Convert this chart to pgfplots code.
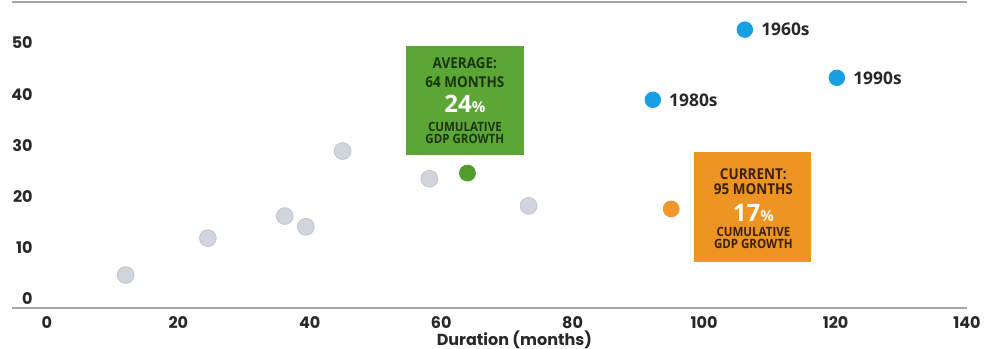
\documentclass[border=0pt]{standalone}
\usepackage{fontspec}
\setmainfont{Poppins}
\newfontfamily\lato{Open Sans}
\newfontfamily\boxfont{Open Sans}[FakeStretch=0.9]
\usepackage{pgfplots}
\pgfplotsset{compat=1.18}
\definecolor{ptgray}{RGB}{208,212,220}
\definecolor{ptgrayedge}{RGB}{192,197,206}
\definecolor{ptblue}{RGB}{22,160,225}
\definecolor{ptgreen}{RGB}{80,156,44}
\definecolor{ptorange}{RGB}{241,152,45}
\definecolor{boxgreen}{RGB}{92,166,54}
\definecolor{boxorange}{RGB}{237,148,35}
\definecolor{txtgreen}{RGB}{28,52,16}
\definecolor{txtorange}{RGB}{58,34,8}
\definecolor{axgray}{RGB}{165,165,165}
\definecolor{tickcol}{RGB}{40,40,40}
\begin{document}
\begin{tikzpicture}
\begin{axis}[
  scale only axis,
  width=477.5pt, height=153pt,
  xmin=-5.3, xmax=140, ymin=-2.34, ymax=57.4,
  xtick={0,20,...,140}, ytick={0,10,...,50},
  major tick length=0pt,
  tick style={draw=none},
  separate axis lines,
  x axis line style={draw=axgray, line width=0.7pt},
  y axis line style={draw=none},
  clip=false,
  /pgf/number format/assume math mode=true,
  ticklabel style={font=\bfseries\fontsize{8}{9.6}\selectfont, text=tickcol},
  xticklabel style={inner sep=0pt, anchor=north, yshift=-4.25pt},
  yticklabel style={inner sep=0pt, anchor=east, xshift=10.5pt, yshift=-1.5pt},
  xlabel={Duration (months)},
  xlabel style={at={(rel axis cs:0.526,0)}, anchor=center, yshift=-16pt, inner sep=0pt,
    font=\bfseries\fontsize{8}{9.6}\selectfont, text=tickcol},
]
% annotation boxes
\fill[boxgreen] (axis cs:54.6,27.5) rectangle (axis cs:72.6,48.8);
\fill[boxorange] (axis cs:98.5,6.6) rectangle (axis cs:116.3,28.1);

% gray expansions
\addplot[only marks, mark=*, mark size=4.2pt, mark options={fill=ptgray, draw=ptgrayedge, line width=0.4pt}]
  coordinates {(12,4.1) (24.5,11.3) (36.2,15.6) (39.4,13.5) (45,28.3) (58.2,22.9) (73.3,17.6)};
% average
\addplot[only marks, mark=*, mark size=4pt, mark options={fill=ptgreen, draw=ptgreen}]
  coordinates {(64,24)};
% current
\addplot[only marks, mark=*, mark size=4pt, mark options={fill=ptorange, draw=ptorange}]
  coordinates {(95,17)};
% decades
\addplot[only marks, mark=*, mark size=3.9pt, mark options={fill=ptblue, draw=ptblue}]
  coordinates {(92.2,38.3) (106.2,52) (120.2,42.6)};

\node[anchor=west, inner sep=0pt, xshift=8pt, font=\lato\bfseries\fontsize{8.7}{10}\selectfont, text=tickcol] at (axis cs:92.2,38.3) {1980s};
\node[anchor=west, inner sep=0pt, xshift=8pt, font=\lato\bfseries\fontsize{8.7}{10}\selectfont, text=tickcol] at (axis cs:106.2,52) {1960s};
\node[anchor=west, inner sep=0pt, xshift=8pt, font=\lato\bfseries\fontsize{8.7}{10}\selectfont, text=tickcol] at (axis cs:120.2,42.6) {1990s};

% green box text
\node[inner sep=0pt, font=\boxfont\bfseries\fontsize{7.5}{8}\selectfont, text=txtgreen] at (axis cs:63.6,45.5) {AVERAGE:};
\node[inner sep=0pt, font=\boxfont\bfseries\fontsize{7.5}{8}\selectfont, text=txtgreen] at (axis cs:63.6,41.8) {64 MONTHS};
\node[inner sep=0pt, font=\lato\bfseries, text=white] at (axis cs:63.6,37.5) {{\fontsize{12}{13}\selectfont 24}{\fontsize{7.5}{8}\selectfont\%}};
\node[inner sep=0pt, font=\boxfont\bfseries\fontsize{6.4}{7}\selectfont, text=txtgreen] at (axis cs:63.6,33.0) {CUMULATIVE};
\node[inner sep=0pt, font=\boxfont\bfseries\fontsize{6.4}{7}\selectfont, text=txtgreen] at (axis cs:63.6,30.7) {GDP GROWTH};

% orange box text
\node[inner sep=0pt, font=\boxfont\bfseries\fontsize{7.5}{8}\selectfont, text=txtorange] at (axis cs:107.5,23.8) {CURRENT:};
\node[inner sep=0pt, font=\boxfont\bfseries\fontsize{7.5}{8}\selectfont, text=txtorange] at (axis cs:107.5,20.9) {95 MONTHS};
\node[inner sep=0pt, font=\lato\bfseries, text=white] at (axis cs:107.5,16.2) {{\fontsize{12}{13}\selectfont 17}{\fontsize{7.5}{8}\selectfont\%}};
\node[inner sep=0pt, font=\boxfont\bfseries\fontsize{6.4}{7}\selectfont, text=txtorange] at (axis cs:107.5,12.5) {CUMULATIVE};
\node[inner sep=0pt, font=\boxfont\bfseries\fontsize{6.4}{7}\selectfont, text=txtorange] at (axis cs:107.5,10.2) {GDP GROWTH};

\coordinate (bbsw) at (rel axis cs:0,0);
\coordinate (bbne) at (rel axis cs:1,1);
\end{axis}
\pgfresetboundingbox
\path[use as bounding box] ([xshift=-6pt,yshift=-20.5pt]bbsw) rectangle ([xshift=9pt,yshift=1pt]bbne);
\end{tikzpicture}
\end{document}
